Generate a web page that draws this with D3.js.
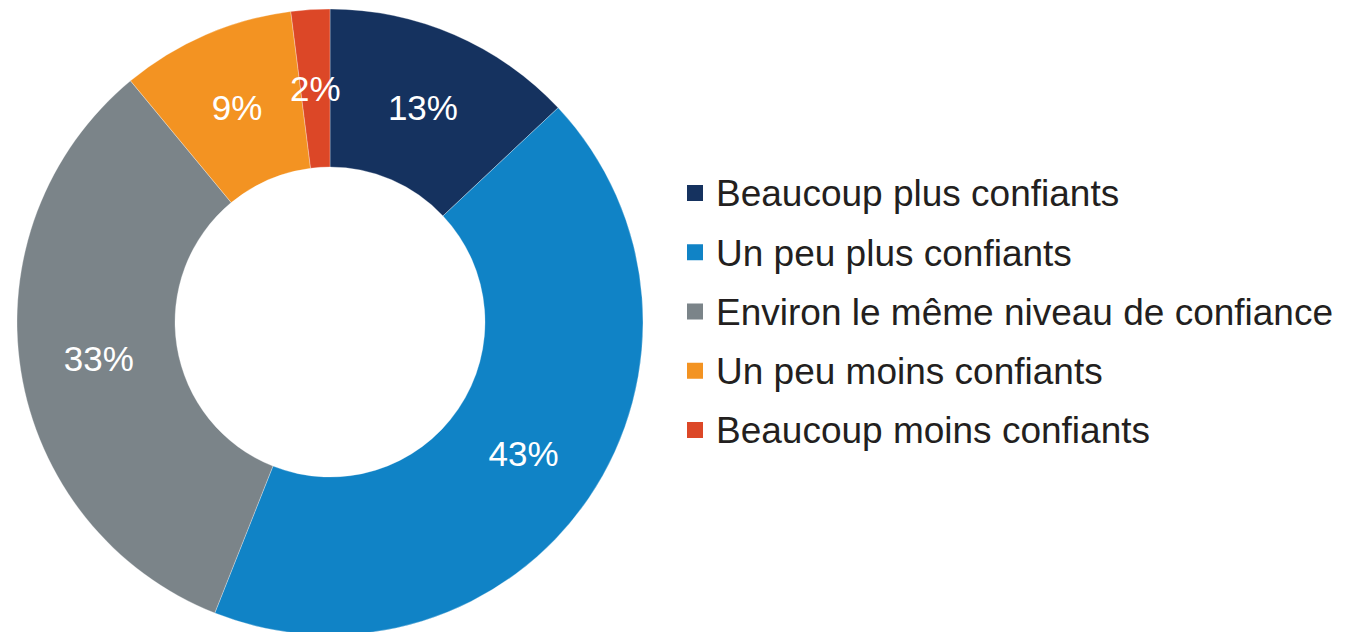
<!DOCTYPE html>
<html>
<head>
<meta charset="utf-8">
<script src="https://cdn.jsdelivr.net/npm/d3@7"></script>
<style>
  body { margin: 0; background: #fff; }
  svg { display: block; }
</style>
</head>
<body>
<div class="chart"></div>
<script>
var categories = ["Beaucoup plus confiants", "Un peu plus confiants", "Environ le même niveau de confiance", "Un peu moins confiants", "Beaucoup moins confiants"];
var values = [13, 43, 33, 9, 2];
var colors = ["#15325f", "#1083c6", "#7b8489", "#f39322", "#dc4727"];

var width = 1351, height = 632;
var cx = 330, cy = 322;
var outerR = 313, innerR = 155;

var svg = d3.select(".chart")
    .append("svg")
    .attr("width", width)
    .attr("height", height);

var pie = d3.pie().sort(null).value(function(d) { return d; });
var arc = d3.arc().innerRadius(innerR).outerRadius(outerR);
var arcs = pie(values);

var g = svg.append("g").attr("transform", "translate(" + cx + "," + cy + ")");

g.selectAll(".slice")
    .data(arcs)
    .enter().append("path")
    .attr("class", "slice")
    .attr("d", arc)
    .style("fill", function(d, i) { return colors[i]; })
    .style("stroke", "#fff")
    .style("stroke-width", "0.3");

g.selectAll(".label")
    .data(arcs)
    .enter().append("text")
    .attr("class", "label")
    .attr("transform", function(d) { return "translate(" + arc.centroid(d) + ")"; })
    .attr("text-anchor", "middle")
    .attr("dy", "0.36em")
    .style("font-family", "'Liberation Sans', Arial, sans-serif")
    .style("font-size", "35px")
    .style("fill", "#fff")
    .text(function(d) { return d.value + "%"; });

// legend
var legendY = d3.scalePoint().domain(categories).range([193, 430]);

var legend = svg.selectAll(".legend")
    .data(categories)
    .enter().append("g")
    .attr("class", "legend")
    .attr("transform", function(d) { return "translate(687," + legendY(d) + ")"; });

legend.append("rect")
    .attr("x", 0)
    .attr("y", -8)
    .attr("width", 16)
    .attr("height", 16)
    .style("fill", function(d, i) { return colors[i]; });

legend.append("text")
    .attr("x", 29)
    .attr("dy", "0.36em")
    .style("font-family", "'Liberation Sans', Arial, sans-serif")
    .style("font-size", "37px")
    .style("fill", "#231f20")
    .text(function(d) { return d; });
</script>
</body>
</html>
